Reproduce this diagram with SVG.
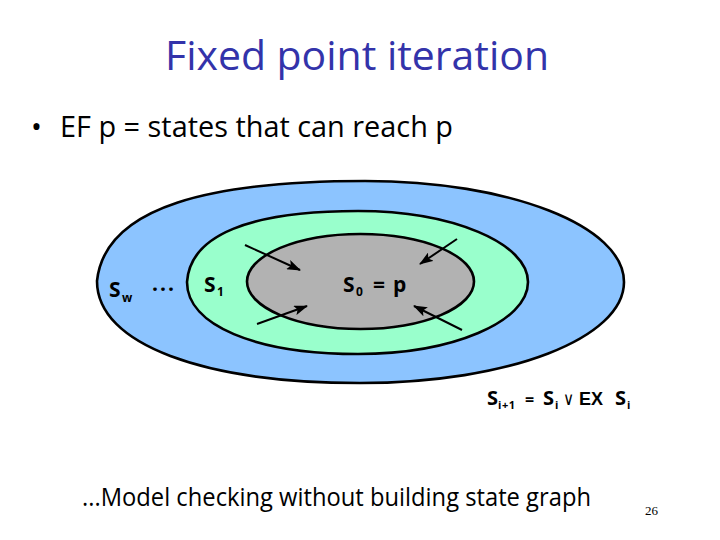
<svg xmlns="http://www.w3.org/2000/svg" width="720" height="540" viewBox="0 0 720 540">
<style>
.t{font-family:"Open Sans","DejaVu Sans",sans-serif;fill:#000}
.b{font-weight:700;font-size:21px}
.s{font-weight:700;font-size:12px}
.e{stroke:#000;stroke-width:2.6}
.a{stroke:#000;stroke-width:2;fill:none;marker-end:url(#h)}
</style>
<defs><marker id="h" markerUnits="userSpaceOnUse" markerWidth="14" markerHeight="10" refX="13" refY="5" orient="auto"><path d="M0 0L14 5L0 10L3 5Z" fill="#000"/></marker></defs>
<rect width="720" height="540" fill="#fff"/>
<text class="t" x="165" y="70" font-size="40" style="fill:#3333aa" textLength="384" lengthAdjust="spacingAndGlyphs">Fixed point iteration</text>
<text class="t" x="31" y="137" font-size="29">•</text>
<text class="t" x="60" y="137" font-size="29" textLength="393" lengthAdjust="spacingAndGlyphs">EF p = states that can reach p</text>
<g id="outer"><path class="e" d="M97 281C105 205 215 181 365 181C510 181 624 226 624 282C624 338 510 383 360 383C205 383 97 345 97 281Z" fill="#8cc4ff"/></g>
<g id="middle"><path class="e" d="M187 282C190 235 250 211 358 211C452 211 528 243 528 282C528 322 452 354 358 354C255 354 187 325 187 282Z" fill="#99ffcc"/></g>
<g id="inner"><ellipse class="e" cx="360.5" cy="281.5" rx="113.5" ry="47.5" fill="#b2b2b2"/></g>
<g id="connectors">
<line class="a" x1="245" y1="245" x2="300" y2="270"/>
<line class="a" x1="257" y1="324" x2="307" y2="306"/>
<line class="a" x1="457" y1="239" x2="420" y2="264"/>
<line class="a" x1="462" y1="330" x2="414" y2="306"/>
</g>
<g id="labels">
<text class="t b" x="109" y="297">S</text><text class="t s" x="122" y="302">w</text>
<text class="t b" x="152" y="291" textLength="22">...</text>
<text class="t b" x="204" y="292">S</text><text class="t s" x="217" y="296">1</text>
<text class="t b" x="343" y="292">S</text><text class="t s" x="356" y="296">0</text>
<text class="t b" x="373" y="292" font-size="18">=</text><text class="t b" x="393" y="292">p</text>
<text class="t" x="487" y="405" font-size="20" font-weight="700">S</text>
<text class="t" x="498" y="409" font-size="11" font-weight="700" textLength="17">i+1</text>
<text class="t" x="525" y="405" font-size="16" font-weight="700">=</text>
<text class="t" x="543" y="405" font-size="20" font-weight="700">S</text>
<text class="t" x="555" y="409" font-size="11" font-weight="700">i</text>
<text x="563" y="405" font-size="18" style="font-family:'DejaVu Sans',sans-serif;font-weight:300" textLength="11" lengthAdjust="spacingAndGlyphs">∨</text>
<text x="579" y="405" font-size="18" font-weight="700" style="font-family:'Liberation Sans',sans-serif" textLength="24" lengthAdjust="spacingAndGlyphs">EX</text>
<text class="t" x="615" y="405" font-size="20" font-weight="700">S</text>
<text class="t" x="627" y="409" font-size="11" font-weight="700">i</text>
</g>
<text class="t" x="82" y="506" font-size="25" textLength="509" lengthAdjust="spacingAndGlyphs">...Model checking without building state graph</text>
<text x="645" y="515" font-size="13" style="font-family:'Liberation Serif',serif">26</text>
</svg>
